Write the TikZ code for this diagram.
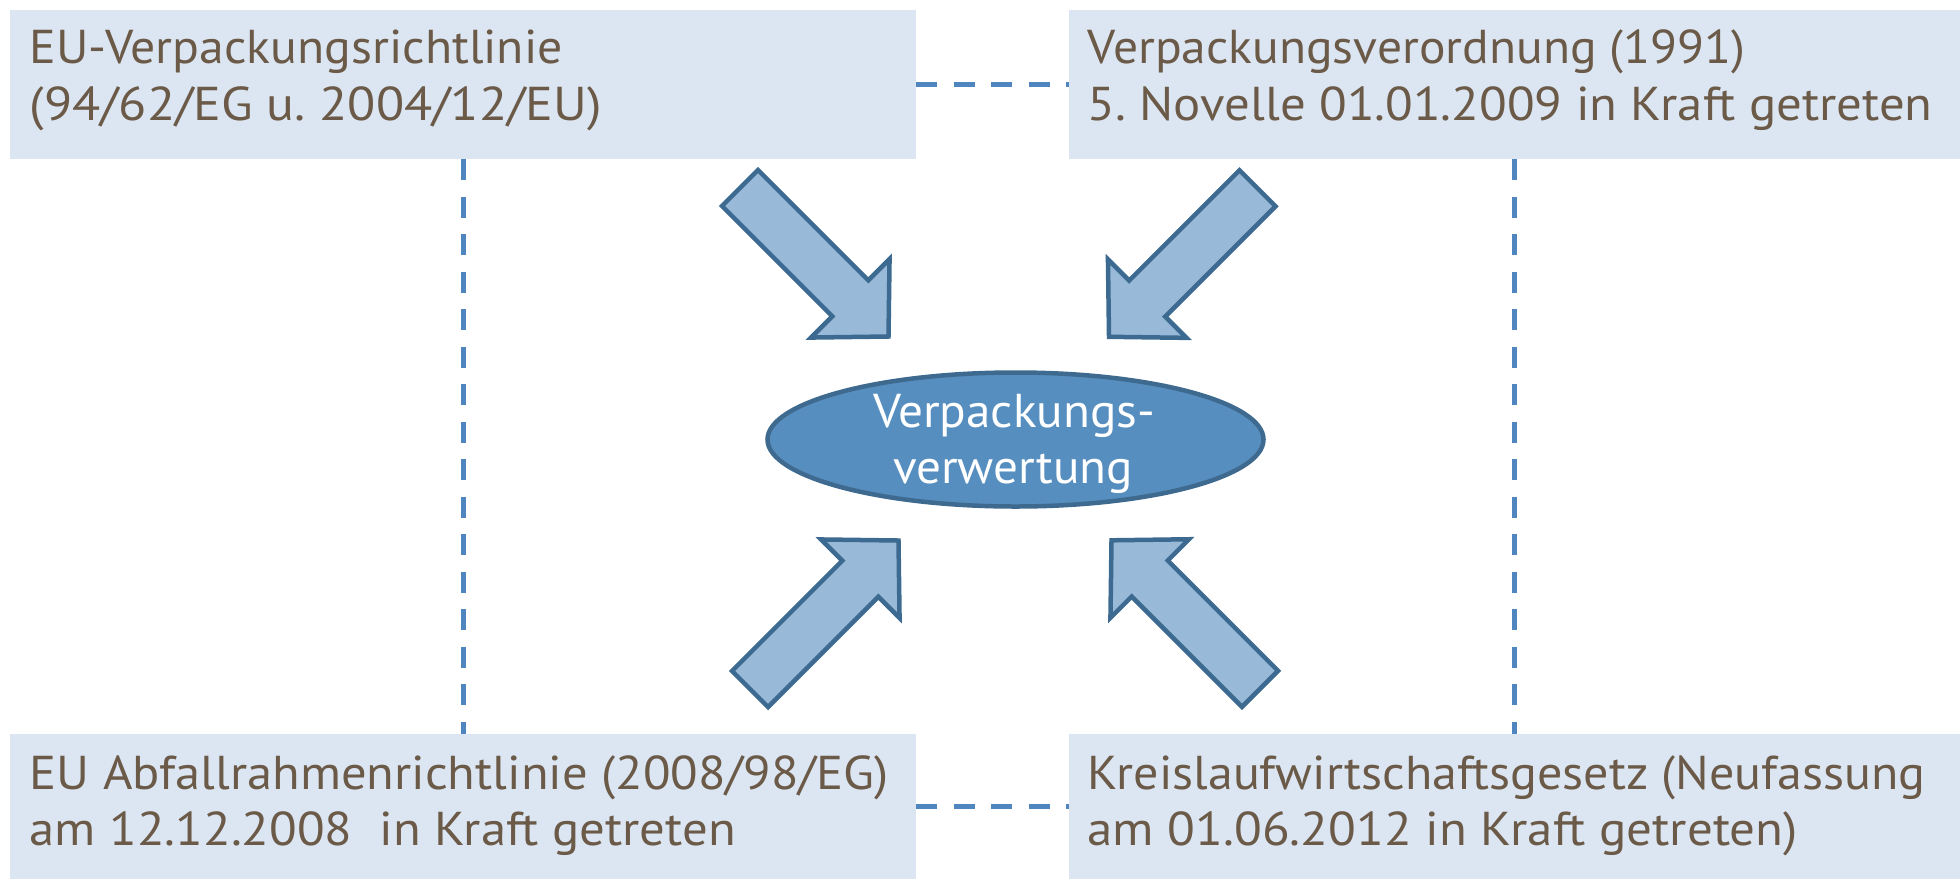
\documentclass[tikz,border=0pt]{standalone}
\usepackage{fontspec}
\usepackage{graphicx}
\setmainfont{PT Sans}
\usetikzlibrary{shapes.geometric}
\definecolor{boxfill}{HTML}{DCE6F2}
\definecolor{boxtext}{HTML}{6B5A48}
\definecolor{dashcol}{HTML}{4F86BF}
\definecolor{arrfill}{HTML}{98B9D7}
\definecolor{arrline}{HTML}{3D6A91}
\definecolor{ellfill}{HTML}{568EBF}
\definecolor{ellline}{HTML}{3F6A90}
\newcommand{\fitw}[2]{\resizebox{#1pt}{\height}{#2}}
\tikzset{
  infobox/.style={rectangle, fill=boxfill, inner sep=0pt},
  boxline/.style={anchor=base west, inner sep=0pt, text=boxtext,
    font=\fontsize{47.5}{57}\selectfont},
  ellline/.style={anchor=base, inner sep=0pt, text=white,
    font=\fontsize{47.5}{57}\selectfont},
  dashconn/.style={draw=dashcol, line width=5pt, dash pattern=on 21pt off 16.5pt},
  blockarrow/.style={fill=arrfill, draw=arrline, line width=4.5pt, line join=miter},
  centerell/.style={ellipse, fill=ellfill, draw=ellline, line width=4.5pt, inner sep=0pt,
    minimum width=496pt, minimum height=134pt},
  pics/blockarr/.style={code={
    \draw[blockarrow] (0,25.5) -- (156,25.5) -- (156,55.5) -- (210,0) -- (156,-55.5)
      -- (156,-25.5) -- (0,-25.5) -- cycle;}},
}
\begin{document}
\frenchspacing
\begin{tikzpicture}[x=1pt,y=-1pt]
\useasboundingbox (0,0) rectangle (1960,879);
% boxes
\node[infobox, minimum width=906pt, minimum height=149pt] (tl) at (463,84.5) {};
\node[infobox, minimum width=891pt, minimum height=149pt] (tr) at (1514.5,84.5) {};
\node[infobox, minimum width=906pt, minimum height=145pt] (bl) at (463,806.5) {};
\node[infobox, minimum width=891pt, minimum height=145pt] (br) at (1514.5,806.5) {};
% box texts
\node[boxline] (tl1) at (29.5,63.3) {\fitw{533}{EU-Verpackungsrichtlinie}};
\node[boxline] (tl2) at (29.5,120) {\fitw{572}{(94/62/EG u. 2004/12/EU)}};
\node[boxline] (tr1) at (1087.5,63.3) {\fitw{658}{Verpackungsverordnung (1991)}};
\node[boxline] (tr2) at (1087.5,120) {\fitw{845}{5. Novelle 01.01.2009 in Kraft getreten}};
\node[boxline] (bl1) at (29.5,789.5) {\fitw{859}{EU Abfallrahmenrichtlinie (2008/98/EG)}};
\node[boxline] (bl2) at (29.5,845.5) {\fitw{706}{am 12.12.2008\ \ in Kraft getreten}};
\node[boxline] (br1) at (1087.5,789.5) {\fitw{838}{Kreislaufwirtschaftsgesetz (Neufassung}};
\node[boxline] (br2) at (1087.5,845.5) {\fitw{710}{am 01.06.2012 in Kraft getreten)}};
% dashed connectors
\draw[dashconn] (tl.east) -- (tr.west);
\draw[dashconn] (bl.east) -- (br.west);
\draw[dashconn] (tl.south) -- (bl.north);
\draw[dashconn] (tr.south) -- (br.north);
% block arrows
\coordinate (atl) at (740,188);
\coordinate (atr) at (1257.5,188.3);
\coordinate (abl) at (750,689);
\coordinate (abr) at (1260,688.8);
\pic[rotate=-45] at (atl) {blockarr};
\pic[rotate=-135] at (atr) {blockarr};
\pic[rotate=45] at (abl) {blockarr};
\pic[rotate=135] at (abr) {blockarr};
% central ellipse
\node[centerell] (ev) at (1015.5,439.5) {};
\node[ellline] (ev1) at (1014,427) {\fitw{282}{Verpackungs-}};
\node[ellline] (ev2) at (1013,483) {\fitw{240}{verwertung}};
\end{tikzpicture}
\end{document}
